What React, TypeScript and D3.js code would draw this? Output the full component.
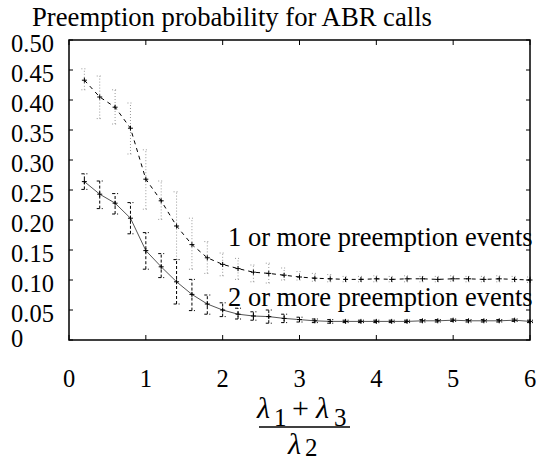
import React, { useEffect, useRef } from "react";
import * as d3 from "d3";

// x = (lambda1 + lambda3) / lambda2
const xValues = [0.2, 0.4, 0.6, 0.8, 1.0, 1.2, 1.4, 1.6, 1.8, 2.0, 2.2, 2.4, 2.6, 2.8, 3.0,
  3.2, 3.4, 3.6, 3.8, 4.0, 4.2, 4.4, 4.6, 4.8, 5.0, 5.2, 5.4, 5.6, 5.8, 6.0];

// 1 or more preemption events
const oneMean = [0.433, 0.405, 0.388, 0.353, 0.268, 0.232, 0.190, 0.159, 0.137, 0.126, 0.119, 0.113, 0.111, 0.108, 0.105,
  0.103, 0.102, 0.101, 0.101, 0.102, 0.101, 0.102, 0.102, 0.101, 0.102, 0.102, 0.101, 0.102, 0.101, 0.100];
const oneLow = [0.417, 0.369, 0.360, 0.310, 0.218, 0.201, 0.134, 0.118, 0.111, 0.107, 0.101, 0.097, 0.095, 0.100, 0.100,
  0.098, 0.097, 0.097, 0.097, 0.097, 0.097, 0.097, 0.097, 0.097, 0.098, 0.097, 0.097, 0.097, 0.097, 0.096];
const oneHigh = [0.452, 0.440, 0.417, 0.395, 0.317, 0.265, 0.247, 0.203, 0.164, 0.145, 0.136, 0.125, 0.128, 0.120, 0.114,
  0.111, 0.109, 0.106, 0.106, 0.107, 0.106, 0.107, 0.106, 0.106, 0.107, 0.106, 0.106, 0.107, 0.106, 0.105];

// 2 or more preemption events
const twoMean = [0.264, 0.243, 0.228, 0.203, 0.149, 0.122, 0.097, 0.076, 0.060, 0.050, 0.043, 0.040, 0.039, 0.036, 0.034,
  0.032, 0.031, 0.031, 0.031, 0.031, 0.031, 0.031, 0.032, 0.032, 0.033, 0.032, 0.032, 0.032, 0.033, 0.031];
const twoLow = [0.251, 0.219, 0.210, 0.177, 0.118, 0.104, 0.060, 0.049, 0.043, 0.039, 0.035, 0.033, 0.028, 0.029, 0.030,
  0.029, 0.028, 0.029, 0.029, 0.029, 0.029, 0.029, 0.030, 0.030, 0.031, 0.030, 0.030, 0.030, 0.031, 0.029];
const twoHigh = [0.277, 0.265, 0.244, 0.229, 0.179, 0.144, 0.134, 0.101, 0.075, 0.062, 0.053, 0.047, 0.050, 0.043, 0.038,
  0.035, 0.034, 0.033, 0.033, 0.033, 0.033, 0.033, 0.034, 0.034, 0.035, 0.034, 0.034, 0.034, 0.035, 0.033];

const xTicks = [0, 1, 2, 3, 4, 5, 6];
const yTicks = [0, 0.05, 0.1, 0.15, 0.2, 0.25, 0.3, 0.35, 0.4, 0.45, 0.5];
const yTickLabels = ["0", "0.05", "0.10", "0.15", "0.20", "0.25", "0.30", "0.35", "0.40", "0.45", "0.50"];

const title = "Preemption probability for ABR calls";
const seriesLabels = ["1 or more preemption events", "2 or more preemption events"];

const serif = "'Liberation Serif', 'Times New Roman', serif";

const App = () => {
  const ref = useRef(null);

  useEffect(() => {
    const svg = d3.select(ref.current);
    svg.selectAll("*").remove();

    const x = d3.scaleLinear().domain([0, 6]).range([69, 530]);
    const y = d3.scaleLinear().domain([0, 0.5]).range([340, 40]);

    svg.append("rect").attr("width", 543).attr("height", 462).attr("fill", "#fff");

    svg.append("text")
      .attr("x", 32).attr("y", 26)
      .attr("textLength", 400).attr("lengthAdjust", "spacingAndGlyphs")
      .style("font-family", serif).style("font-size", "27px")
      .text(title);

    // y tick labels (left aligned, like the original)
    svg.selectAll("text.ylab").data(yTicks).enter().append("text")
      .attr("class", "ylab")
      .attr("x", 11)
      .attr("y", d => y(d) + (d === 0 ? 7 : 12))
      .style("font-family", serif).style("font-size", "24.5px")
      .text((d, i) => yTickLabels[i]);

    svg.selectAll("text.xlab").data(xTicks).enter().append("text")
      .attr("class", "xlab")
      .attr("x", d => x(d))
      .attr("y", 387)
      .attr("text-anchor", "middle")
      .style("font-family", serif).style("font-size", "24.5px")
      .text(d => d);

    const rows = xValues.map((v, i) => ({
      x: v,
      one: oneMean[i], oneLo: oneLow[i], oneHi: oneHigh[i],
      two: twoMean[i], twoLo: twoLow[i], twoHi: twoHigh[i]
    }));

    const errorBars = (lo, hi, color, dash) => {
      const g = svg.append("g").attr("stroke", color).attr("stroke-width", 1).attr("stroke-dasharray", dash).attr("fill", "none");
      g.selectAll("path").data(rows).enter().append("path")
        .attr("d", d => {
          const cx = x(d.x);
          return `M${cx},${y(d[lo])}V${y(d[hi])}M${cx - 3},${y(d[lo])}H${cx + 3}M${cx - 3},${y(d[hi])}H${cx + 3}`;
        });
    };

    const markers = key => {
      svg.append("g").attr("stroke", "#000").attr("stroke-width", 1)
        .selectAll("path").data(rows).enter().append("path")
        .attr("d", d => `M${x(d.x) - 2.5},${y(d[key])}H${x(d.x) + 2.5}M${x(d.x)},${y(d[key]) - 2.5}V${y(d[key]) + 2.5}`);
    };

    errorBars("oneLo", "oneHi", "#999", "1,2");
    errorBars("twoLo", "twoHi", "#000", "3,2");

    const lineOne = d3.line().x(d => x(d.x)).y(d => y(d.one));
    const lineTwo = d3.line().x(d => x(d.x)).y(d => y(d.two));

    svg.append("path").datum(rows)
      .attr("d", lineOne).attr("fill", "none")
      .attr("stroke", "#000").attr("stroke-width", 1).attr("stroke-dasharray", "4,4");
    svg.append("path").datum(rows)
      .attr("d", lineTwo).attr("fill", "none")
      .attr("stroke", "#555").attr("stroke-width", 1);

    markers("one");
    markers("two");

    svg.selectAll("text.series").data(seriesLabels).enter().append("text")
      .attr("class", "series")
      .attr("x", 228)
      .attr("y", (d, i) => (i === 0 ? 246 : 306))
      .style("font-family", serif).style("font-size", "26.5px")
      .text(d => d);

    // frame and inward ticks
    const frame = svg.append("g").attr("stroke", "#000").attr("fill", "none");
    frame.append("rect")
      .attr("x", x(0)).attr("y", y(0.5))
      .attr("width", x(6) - x(0)).attr("height", y(0) - y(0.5))
      .attr("stroke-width", 1.5);
    frame.selectAll("path.xt").data(xTicks).enter().append("path")
      .attr("d", d => `M${x(d)},${y(0)}v-5M${x(d)},${y(0.5)}v5`);
    frame.selectAll("path.yt").data(yTicks).enter().append("path")
      .attr("d", d => `M${x(0)},${y(d)}h4M${x(6)},${y(d)}h-4`);

    // axis label: (lambda1 + lambda3) / lambda2
    const lab = svg.append("g").style("font-family", serif);
    const piece = (tx, ty, size, italic, s) =>
      lab.append("text").attr("x", tx).attr("y", ty)
        .style("font-size", size + "px")
        .style("font-style", italic ? "italic" : "normal")
        .text(s);
    piece(257, 418, 30, true, "\u03bb");
    piece(274, 426, 25, false, "1");
    piece(292, 418, 30, false, "+");
    piece(316, 418, 30, true, "\u03bb");
    piece(334, 426, 25, false, "3");
    lab.append("path").attr("d", "M259,427H350").attr("stroke", "#000").attr("stroke-width", 1.5);
    piece(288, 454, 30, true, "\u03bb");
    piece(305, 456, 25, false, "2");
  }, []);

  return (
    <svg
      ref={ref}
      width={543}
      height={462}
      style={{ position: "absolute", left: 0, top: 0 }}
    />
  );
};

export default App;
